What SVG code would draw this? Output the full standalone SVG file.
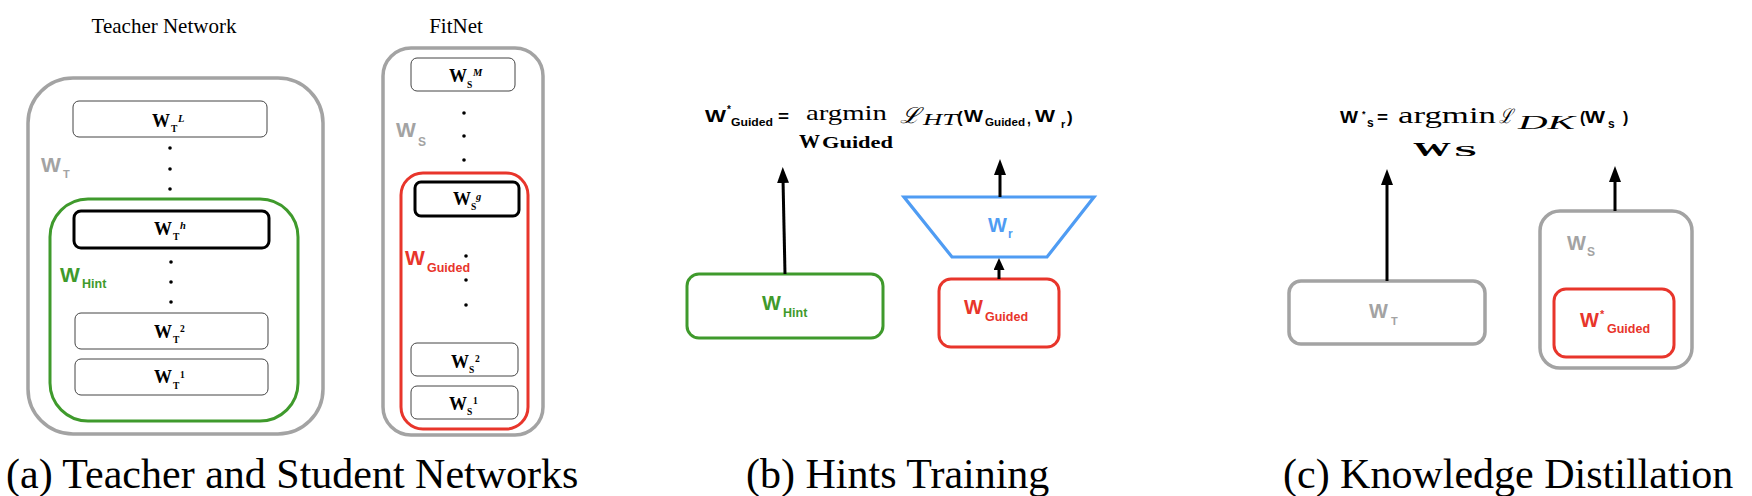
<svg xmlns="http://www.w3.org/2000/svg" width="1752" height="496" viewBox="0 0 1752 496">
<style>
text{font-family:"Liberation Serif","Times New Roman",serif;fill:#000}
.cap{font-size:42px;font-family:"Liberation Serif","Times New Roman",serif}
.title{font-size:21px;text-anchor:middle}
.gray{fill:none;stroke:#a3a3a3;stroke-width:3.5}
.grn{fill:none;stroke:#3f9a2c;stroke-width:3}
.red{fill:none;stroke:#e8352b;stroke-width:3}
.blue{fill:none;stroke:#4f9cf3;stroke-width:3.2}
.thin{fill:#fff;stroke:#444;stroke-width:1}
.thick{fill:#fff;stroke:#000;stroke-width:3}
.bw{font-weight:bold;font-size:18px}
.bs{font-weight:bold;font-size:9.5px}
.bi{font-weight:bold;font-style:italic;font-size:10.5px}
.sans{font-family:"Liberation Sans",Arial,sans-serif;font-weight:bold}
.tg{fill:#a3a3a3}
.tgr{fill:#3f9a2c}
.tr{fill:#e8352b}
.tb{fill:#4f9cf3}
.conn line{stroke:#000;stroke-width:3}
</style>
<defs>
<marker id="ah" viewBox="0 0 16 12" refX="4" refY="6" markerWidth="16" markerHeight="12" markerUnits="userSpaceOnUse" orient="auto">
<path d="M0,0 L16,6 L0,12 z" fill="#000"/>
</marker>
<marker id="ahs" viewBox="0 0 12 11" refX="3" refY="5.5" markerWidth="12" markerHeight="11" markerUnits="userSpaceOnUse" orient="auto">
<path d="M0,0 L12,5.5 L0,11 z" fill="#000"/>
</marker>
</defs>

<!-- Panel (a) Teacher -->
<text class="title" x="164" y="33">Teacher Network</text>
<g id="teacher">
<rect class="gray" x="28" y="78" width="295" height="356" rx="45"/>
<text class="sans tg" x="41" y="172" font-size="21">W</text>
<text class="sans tg" x="63" y="178" font-size="11">T</text>
</g>
<g id="wTL">
<rect class="thin" x="73" y="101" width="194" height="36" rx="6"/>
<text class="bw" x="152" y="127">W</text><text class="bs" x="171" y="132">T</text><text class="bi" x="178" y="122">L</text>
</g>
<g id="dotsA1" fill="#000"><circle cx="170" cy="148" r="1.8"/><circle cx="170" cy="169" r="1.8"/><circle cx="170" cy="189" r="1.8"/></g>
<g id="hint">
<rect class="grn" x="50" y="199" width="248" height="222" rx="38"/>
<text class="sans tgr" x="60" y="282" font-size="21">W</text>
<text class="sans tgr" x="82" y="288" font-size="12.5">Hint</text>
</g>
<g id="wTh">
<rect class="thick" x="74" y="211" width="195" height="37" rx="7"/>
<text class="bw" x="154" y="235">W</text><text class="bs" x="173" y="240">T</text><text class="bi" x="180" y="229">h</text>
</g>
<g id="dotsA2" fill="#000"><circle cx="171" cy="262" r="1.8"/><circle cx="171" cy="282" r="1.8"/><circle cx="171" cy="302" r="1.8"/></g>
<g id="wT2">
<rect class="thin" x="75" y="313" width="193" height="36" rx="6"/>
<text class="bw" x="154" y="338">W</text><text class="bs" x="173" y="343">T</text><text class="bs" x="180" y="332" font-size="10.5">2</text>
</g>
<g id="wT1">
<rect class="thin" x="75" y="359" width="193" height="36" rx="6"/>
<text class="bw" x="154" y="383">W</text><text class="bs" x="173" y="389">T</text><text class="bs" x="180" y="378" font-size="10.5">1</text>
</g>

<!-- FitNet -->
<text class="title" x="456" y="33">FitNet</text>
<g id="fitnet">
<rect class="gray" x="383" y="48" width="160" height="387" rx="28"/>
<text class="sans tg" x="396" y="137" font-size="21">W</text>
<text class="sans tg" x="418" y="146" font-size="12">S</text>
</g>
<g id="wSM">
<rect class="thin" x="411" y="58" width="104" height="33" rx="6"/>
<text class="bw" x="449" y="82">W</text><text class="bs" x="467" y="88">S</text><text class="bi" x="473" y="76">M</text>
</g>
<g id="dotsF1" fill="#000"><circle cx="464" cy="113" r="1.8"/><circle cx="464" cy="136" r="1.8"/><circle cx="464" cy="160" r="1.8"/></g>
<g id="guided">
<rect class="red" x="401" y="173" width="127" height="256" rx="22"/>
<text class="sans tr" x="405" y="265" font-size="21">W</text>
<text class="sans tr" x="427" y="272" font-size="12.5">Guided</text>
</g>
<g id="wSg">
<rect class="thick" x="415" y="182" width="104" height="34" rx="6"/>
<text class="bw" x="453" y="205">W</text><text class="bs" x="471" y="210">S</text><text class="bi" x="476" y="200">g</text>
</g>
<g id="dotsF2" fill="#000"><circle cx="466" cy="256" r="1.8"/><circle cx="466" cy="280" r="1.8"/><circle cx="466" cy="305" r="1.8"/></g>
<g id="wS2">
<rect class="thin" x="411" y="343" width="107" height="33" rx="6"/>
<text class="bw" x="451" y="368">W</text><text class="bs" x="469" y="373">S</text><text class="bs" x="475" y="362" font-size="10.5">2</text>
</g>
<g id="wS1">
<rect class="thin" x="411" y="386" width="107" height="33" rx="6"/>
<text class="bw" x="449" y="410">W</text><text class="bs" x="467" y="415">S</text><text class="bs" x="473" y="404" font-size="10.5">1</text>
</g>

<text class="cap" x="6" y="488">(a)  Teacher and Student Networks</text>

<!-- Panel (b) -->
<g id="formulaB">
<text class="sans" x="705" y="122" font-size="17" textLength="21" lengthAdjust="spacingAndGlyphs">W</text>
<text class="sans" x="727" y="113" font-size="10">*</text>
<text class="sans" x="731" y="126" font-size="11" textLength="42" lengthAdjust="spacingAndGlyphs">Guided</text>
<text class="sans" x="778" y="122" font-size="17" textLength="11" lengthAdjust="spacingAndGlyphs">=</text>
<text x="806" y="120" font-size="22" textLength="81" lengthAdjust="spacingAndGlyphs">argmin</text>
<text x="799" y="148" font-size="18" font-weight="bold" textLength="21" lengthAdjust="spacingAndGlyphs">W</text>
<text x="822" y="148" font-size="16" font-weight="bold" textLength="71" lengthAdjust="spacingAndGlyphs">Guided</text>
<text x="900" y="123" font-size="22" font-style="italic" textLength="20" lengthAdjust="spacingAndGlyphs">ℒ</text>
<text x="923" y="125" font-size="16" font-style="italic" textLength="34" lengthAdjust="spacingAndGlyphs">HT</text>
<text class="sans" x="957" y="123" font-size="17" font-weight="normal">(</text>
<text class="sans" x="964" y="122" font-size="17" textLength="19" lengthAdjust="spacingAndGlyphs">W</text>
<text class="sans" x="985" y="126" font-size="11" textLength="40" lengthAdjust="spacingAndGlyphs">Guided</text>
<text class="sans" x="1027" y="124" font-size="14">,</text>
<text class="sans" x="1035" y="122" font-size="17" textLength="20" lengthAdjust="spacingAndGlyphs">W</text>
<text class="sans" x="1061" y="128" font-size="11">r</text>
<text class="sans" x="1067" y="123" font-size="17" font-weight="normal">)</text>
</g>
<g id="hintB">
<rect class="grn" x="687" y="274" width="196" height="64" rx="12"/>
<text class="sans tgr" x="762" y="310" font-size="20">W</text>
<text class="sans tgr" x="783" y="317" font-size="12.5">Hint</text>
</g>
<g id="regressor">
<polygon class="blue" points="904,197 1094,197 1047,257 952,257"/>
<text class="sans tb" x="988" y="232" font-size="20">W</text>
<text class="sans tb" x="1008" y="238" font-size="12">r</text>
</g>
<g id="guidedB">
<rect class="red" x="939" y="279" width="120" height="68" rx="12"/>
<text class="sans tr" x="964" y="314" font-size="20">W</text>
<text class="sans tr" x="985" y="321" font-size="12.5">Guided</text>
</g>
<text class="cap" x="746" y="488">(b) Hints Training</text>

<!-- Panel (c) -->
<g id="formulaC">
<text class="sans" x="1340" y="123" font-size="16" textLength="18" lengthAdjust="spacingAndGlyphs">W</text>
<text class="sans" x="1362" y="117" font-size="9">*</text>
<text class="sans" x="1367" y="127" font-size="12">s</text>
<text class="sans" x="1377" y="123" font-size="16" textLength="11" lengthAdjust="spacingAndGlyphs">=</text>
<text x="1398" y="123" font-size="23" textLength="98" lengthAdjust="spacingAndGlyphs">argmin</text>
<text x="1499" y="123" font-size="20" font-style="italic" textLength="14" lengthAdjust="spacingAndGlyphs">ℒ</text>
<text x="1518" y="129" font-size="18" font-style="italic" textLength="57" lengthAdjust="spacingAndGlyphs">DK</text>
<text class="sans" x="1580" y="123" font-size="16" font-weight="normal">(</text>
<text class="sans" x="1585" y="123" font-size="16" textLength="20" lengthAdjust="spacingAndGlyphs">W</text>
<text class="sans" x="1608" y="128" font-size="12">s</text>
<text class="sans" x="1623" y="123" font-size="16" font-weight="normal">)</text>
<text x="1413" y="156" font-size="19" font-weight="bold" textLength="38" lengthAdjust="spacingAndGlyphs">W</text>
<text x="1454" y="156" font-size="14" font-weight="bold" textLength="23" lengthAdjust="spacingAndGlyphs">S</text>
</g>
<g id="teacherC">
<rect class="gray" x="1289" y="281" width="196" height="63" rx="12"/>
<text class="sans tg" x="1369" y="318" font-size="20">W</text>
<text class="sans tg" x="1391" y="325" font-size="11">T</text>
</g>
<g id="studentC">
<rect class="gray" x="1540" y="211" width="152" height="157" rx="20"/>
<text class="sans tg" x="1567" y="250" font-size="20">W</text>
<text class="sans tg" x="1587" y="256" font-size="12">S</text>
</g>
<g id="guidedC">
<rect class="red" x="1554" y="289" width="120" height="68" rx="12"/>
<text class="sans tr" x="1580" y="327" font-size="20">W</text>
<text class="sans tr" x="1600" y="318" font-size="11">*</text>
<text class="sans tr" x="1607" y="333" font-size="12.5">Guided</text>
</g>
<text class="cap" x="1283" y="488">(c) Knowledge Distillation</text>

<g id="connectors" class="conn">
<line x1="785" y1="274" x2="783" y2="179" marker-end="url(#ah)"/>
<line x1="1000" y1="197" x2="1000" y2="171" marker-end="url(#ah)"/>
<line x1="999" y1="279" x2="999" y2="267" marker-end="url(#ahs)"/>
<line x1="1387" y1="281" x2="1387" y2="181" marker-end="url(#ah)"/>
<line x1="1615" y1="211" x2="1615" y2="178" marker-end="url(#ah)"/>
</g>
</svg>
